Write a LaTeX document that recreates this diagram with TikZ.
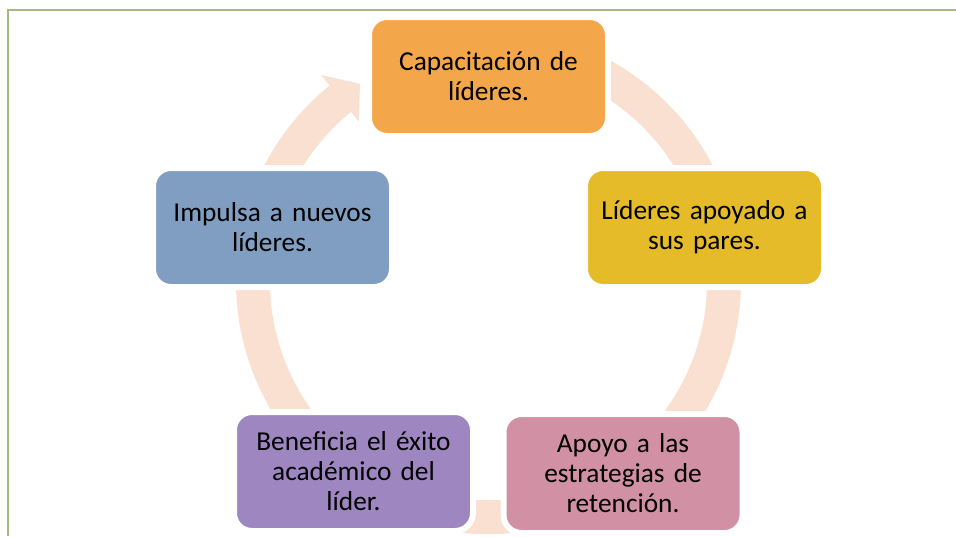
\documentclass[tikz,border=0pt]{standalone}
\usepackage{fontspec}
\setmainfont{Carlito}
\usetikzlibrary{backgrounds,calc}
\tikzset{
  cyclebox/.style={rounded corners=13.5pt, draw=white, line width=4.5pt, minimum width=179.25pt, minimum height=89.25pt, text width=160pt, inner sep=0pt, align=center, font=\fontsize{20.5pt}{22.5pt}\selectfont},
  band/.style={color={rgb, 255:red, 250; green, 224; blue, 208 }, line width=25.5pt}
}
\begin{document}
\begin{tikzpicture}[x=0.75pt,y=0.75pt,yscale=-1,xscale=1]
\useasboundingbox (0,0) rectangle (956,536);
\draw [draw={rgb, 255:red, 164; green, 186; blue, 128 }, line width=1.5pt] (8,536) -- (8,10) -- (956,10);
\coordinate (hub) at (488.5,281.7);
\draw (488.5,76.5) node (cap) [cyclebox, fill={rgb, 255:red, 243; green, 166; blue, 74 }] {Capacitación de\\líderes.};
\draw (704.5,227.5) node (pares) [cyclebox, fill={rgb, 255:red, 229; green, 187; blue, 41 }] {Líderes apoyado a\\sus pares.};
\draw (623,473.5) node (reten) [cyclebox, fill={rgb, 255:red, 209; green, 144; blue, 164 }] {Apoyo a las\\estrategias de\\retención.};
\draw (353.5,471.5) node (exito) [cyclebox, fill={rgb, 255:red, 158; green, 134; blue, 193 }] {Beneficia el éxito\\académico del\\líder.};
\draw (272.5,227.5) node (nuevos) [cyclebox, fill={rgb, 255:red, 128; green, 158; blue, 194 }] {Impulsa a nuevos\\líderes.};
\begin{scope}[on background layer]
% arrows of the cycle
\draw [band] (hub) ++(-90:235.5) arc [start angle=-90, end angle=-14, radius=235.5];
\draw [band] (hub) ++(-14:235.5) arc [start angle=-14, end angle=55, radius=235.5];
\draw [band] (hub) ++(55:235.5) arc [start angle=55, end angle=125, radius=235.5];
\draw [band] (hub) ++(125:235.5) arc [start angle=125, end angle=194, radius=235.5];
\draw [band] (hub) ++(-166:235.5) arc [start angle=-166, end angle=-129, radius=235.5];
\fill [band] ($(hub)+(-129:266)$) -- ($(hub)+(-123:236)$) -- ($(hub)+(-129:206)$) -- cycle;
\end{scope}
\end{tikzpicture}
\end{document}
